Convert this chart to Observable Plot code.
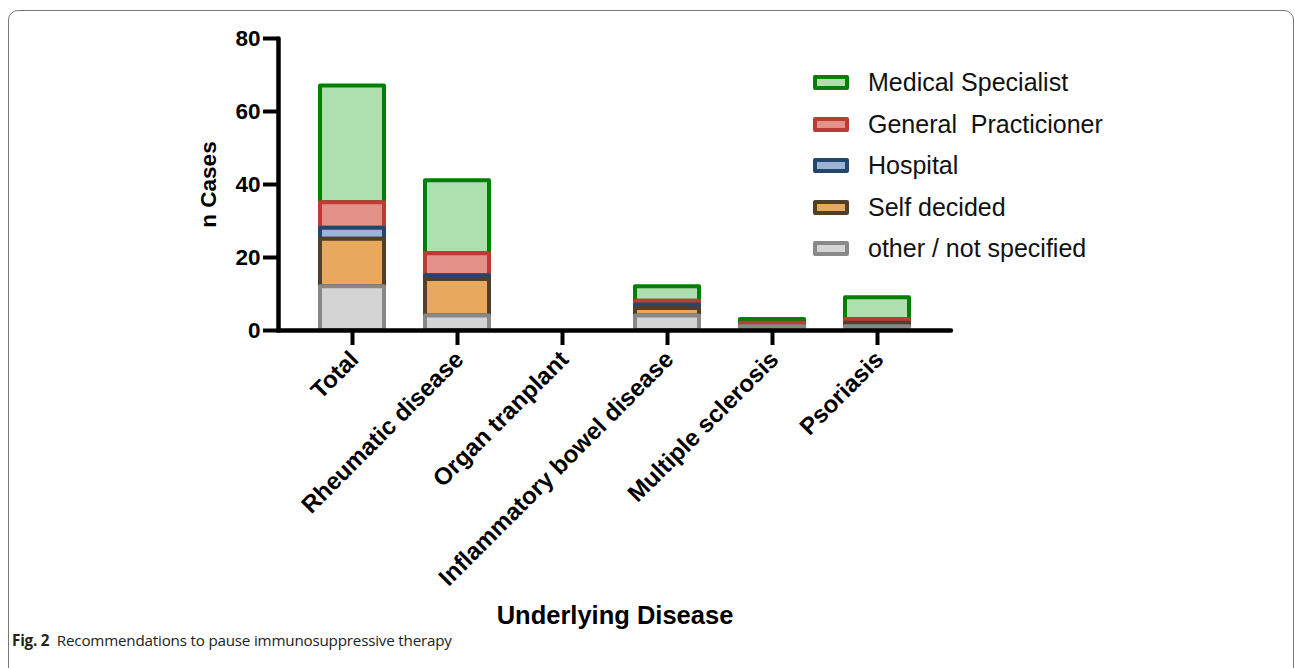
<!DOCTYPE html>
<html>
<head>
<meta charset="utf-8">
<script src="https://cdn.jsdelivr.net/npm/d3@7"></script>
<script src="https://cdn.jsdelivr.net/npm/@observablehq/plot@0.6"></script>
<style>
  html, body { margin: 0; padding: 0; background: #fff; }
  #page { position: relative; width: 1295px; height: 668px; overflow: hidden; font-family: "Liberation Sans", Arial, sans-serif; }
  #box { position: absolute; left: 8px; top: 10px; width: 1284px; height: 720px; border: 1.5px solid #777; border-radius: 10px; }
  #chart { position: absolute; left: 0; top: 0; }
  #legend { position: absolute; left: 813px; top: 62px; }
  .row { display: flex; align-items: center; height: 41.5px; }
  .sw { width: 28px; height: 7px; border-width: 4px; border-style: solid; border-radius: 2px; margin-right: 19px; }
  .lab { font-size: 25px; color: #111; white-space: pre; }
  #caption { position: absolute; left: 12px; top: 630px; font-family: "Open Sans", "Noto Sans", sans-serif; font-size: 15.2px; color: #222; letter-spacing: -0.2px; }
  #caption b { font-weight: bold; }
</style>
</head>
<body>
<div id="page">
  <div id="box"></div>
  <div id="chart"></div>
  <div id="legend"></div>
  <div id="caption"><b>Fig. 2</b>&nbsp; Recommendations to pause immunosuppressive therapy</div>
</div>
<script>
const categories = ["Total", "Rheumatic disease", "Organ tranplant", "Inflammatory bowel disease", "Multiple sclerosis", "Psoriasis"];
const sources = ["Medical Specialist", "General  Practicioner", "Hospital", "Self decided", "other / not specified"];
const medicalSpecialist   = [32, 20, 0, 4, 1, 6];
const generalPracticioner = [7, 6, 0, 1, 1, 1];
const hospital            = [3, 1, 0, 1, 0, 0];
const selfDecided         = [13, 10, 0, 2, 0, 1];
const otherNotSpecified   = [12, 4, 0, 4, 1, 1];
const yTicks = [0, 20, 40, 60, 80];
const fills   = ["#aedfae", "#e4918a", "#9bb4d6", "#e8a85e", "#d4d4d4"];
const strokes = ["#008000", "#be3a34", "#23466f", "#4f3f2c", "#888888"];

const seriesValues = [medicalSpecialist, generalPracticioner, hospital, selfDecided, otherNotSpecified];
const rows = [];
sources.forEach((s, i) => {
  categories.forEach((c, j) => {
    rows.push({category: c, source: s, value: seriesValues[i][j], fill: fills[i], stroke: strokes[i]});
  });
});
const stackOrder = sources.slice().reverse();

const chart = Plot.plot({
  width: 1295,
  height: 640,
  marginTop: 38,
  marginBottom: 310,
  marginLeft: 278,
  marginRight: 344,
  style: {fontFamily: "Liberation Sans, Arial, sans-serif", color: "#000", background: "transparent"},
  x: {domain: categories, paddingInner: 0.393, paddingOuter: 0.386},
  y: {domain: [0, 80]},
  color: {type: "identity"},
  marks: [
    Plot.barY(rows, {x: "category", y: "value", z: "source", order: stackOrder, fill: "fill", stroke: "stroke", strokeWidth: 4, strokeLinejoin: "round"}),
    Plot.ruleY([0], {stroke: "#000", strokeWidth: 4.5, strokeLinecap: "round"}),
    Plot.frame({anchor: "left", stroke: "#000", strokeWidth: 4.5, strokeLinecap: "round"}),
    Plot.axisY({ticks: yTicks, tickSize: 15, tickPadding: 3, strokeWidth: 4, fontSize: 22.5, fontWeight: "bold", label: "n Cases", labelAnchor: "center", labelArrow: "none", labelOffset: 78}),
    Plot.axisX({tickSize: 15, strokeWidth: 4, tickFormat: () => "", label: null}),
    Plot.axisX({tickSize: 0, tickPadding: 25, tickRotate: -45, fontSize: 24, fontWeight: "bold", dx: 2, label: null}),
    Plot.axisX({ticks: [], tickSize: 0, fontSize: 25.5, fontWeight: "bold", label: "Underlying Disease", labelAnchor: "center", labelArrow: "none", labelOffset: 293})
  ]
});
document.getElementById("chart").appendChild(chart);

const legend = document.getElementById("legend");
sources.forEach((s, i) => {
  const r = document.createElement("div");
  r.className = "row";
  const sw = document.createElement("div");
  sw.className = "sw";
  sw.style.background = fills[i];
  sw.style.borderColor = strokes[i];
  const t = document.createElement("div");
  t.className = "lab";
  t.textContent = s;
  r.appendChild(sw); r.appendChild(t);
  legend.appendChild(r);
});
</script>
</body>
</html>
